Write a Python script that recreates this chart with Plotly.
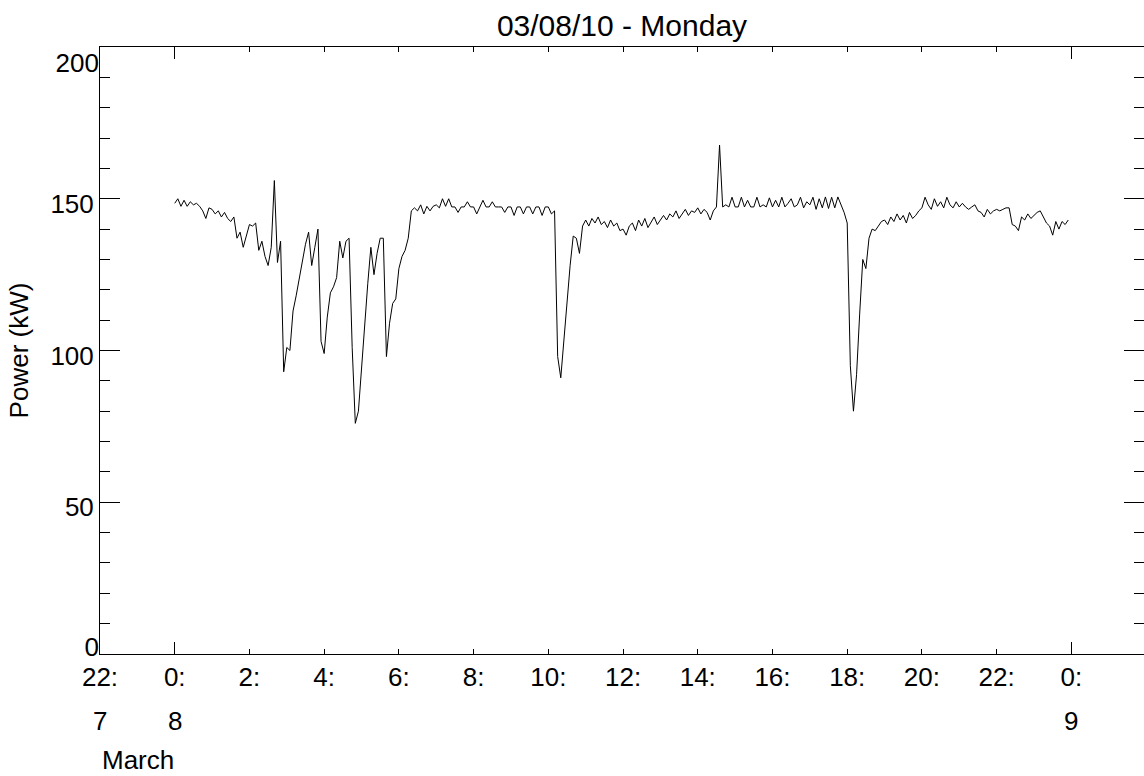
import pandas as pd
import plotly.graph_objects as go

# ---- data (5-minute readings, 2010-03-08) ----
start_time = "2010-03-08 00:00"
power_kw = [
    148.5, 150.0, 147.5, 149.5, 147.5, 149.0, 148.0, 148.5, 147.5, 146.0, 143.5, 147.0,   # 0h
    146.5, 145.0, 146.0, 144.0, 145.5, 143.5, 142.5, 144.0, 137.0, 139.0, 134.0, 137.5,   # 1h
    141.5, 141.0, 142.0, 133.0, 136.0, 131.0, 128.0, 134.0, 156.0, 129.0, 136.0, 93.0,    # 2h
    101.0, 100.0, 113.0, 118.0, 124.0, 130.0, 135.0, 139.0, 128.0, 134.0, 140.0, 103.0,   # 3h
    99.0, 111.0, 119.0, 121.0, 124.0, 136.0, 130.5, 136.0, 137.0, 101.0, 76.0, 80.0,      # 4h
    95.0, 110.0, 122.0, 134.0, 125.0, 132.0, 137.0, 137.0, 98.0, 109.0, 115.5, 117.0,     # 5h
    127.0, 131.0, 133.0, 137.0, 146.0, 147.0, 146.0, 148.0, 145.0, 147.5, 146.0, 147.5,   # 6h
    148.0, 147.0, 150.0, 147.5, 150.0, 147.3, 147.3, 145.5, 147.3, 147.3, 149.0, 147.3,   # 7h
    147.3, 145.0, 147.3, 149.5, 147.3, 147.3, 149.0, 147.3, 147.3, 147.3, 145.5, 147.3,   # 8h
    147.3, 144.5, 147.3, 147.3, 145.0, 147.3, 147.3, 145.0, 147.3, 147.3, 144.5, 147.3,   # 9h
    147.3, 145.0, 146.0, 98.0, 91.0, 104.0, 117.0, 128.0, 137.7, 137.0, 132.0, 141.0,     # 10h
    143.0, 141.0, 143.5, 142.0, 144.0, 141.5, 142.5, 140.5, 143.0, 141.0, 142.0, 139.5,   # 11h
    140.0, 138.0, 141.0, 142.0, 139.5, 143.0, 141.0, 143.5, 140.5, 142.5, 144.0, 141.5,   # 12h
    143.0, 144.5, 143.0, 145.0, 144.0, 146.0, 143.5, 145.0, 146.5, 144.5, 146.0, 145.5,   # 13h
    147.0, 145.0, 146.5, 145.5, 143.0, 146.0, 147.3, 167.7, 147.3, 148.0, 147.3, 150.5,   # 14h
    147.3, 147.3, 150.5, 147.3, 149.5, 147.3, 147.3, 150.5, 147.3, 148.0, 147.3, 150.3,   # 15h
    147.3, 149.5, 147.3, 150.5, 147.3, 148.5, 150.0, 147.3, 148.0, 150.5, 147.0, 149.0,   # 16h
    148.0, 150.5, 146.5, 150.0, 147.0, 150.6, 146.8, 150.5, 147.0, 150.6, 148.0, 145.5,   # 17h
    142.0, 95.0, 80.0, 92.0, 112.0, 130.0, 127.0, 137.0, 140.0, 139.5, 141.0, 142.5,      # 18h
    143.0, 141.5, 144.0, 142.5, 145.0, 143.0, 144.5, 142.0, 145.5, 143.5, 144.5, 146.0,   # 19h
    147.0, 150.5, 148.0, 146.5, 150.0, 147.5, 149.0, 147.0, 150.5, 148.0, 147.0, 149.0,   # 20h
    147.3, 148.5, 147.3, 146.5, 147.3, 148.0, 146.0, 145.5, 144.0, 146.5, 145.0, 146.0,   # 21h
    146.5, 146.0, 146.5, 147.0, 147.0, 141.5, 141.0, 139.5, 144.0, 143.0, 145.0, 143.5,   # 22h
    144.5, 145.5, 146.0, 144.0, 142.0, 141.0, 138.0, 142.5, 140.0, 142.5, 141.5, 143.0,   # 23h
]
times = pd.date_range(start_time, periods=len(power_kw), freq="5min")

# ---- axis labelling ----
hour_tick_vals = ["2010-03-07 22:00", "2010-03-08 00:00", "2010-03-08 02:00", "2010-03-08 04:00",
                  "2010-03-08 06:00", "2010-03-08 08:00", "2010-03-08 10:00", "2010-03-08 12:00",
                  "2010-03-08 14:00", "2010-03-08 16:00", "2010-03-08 18:00", "2010-03-08 20:00",
                  "2010-03-08 22:00", "2010-03-09 00:00"]
hour_tick_text = ["22:", "0:", "2:", "4:", "6:", "8:", "10:", "12:", "14:", "16:", "18:", "20:", "22:", "0:"]
midnight_vals = ["2010-03-08 00:00", "2010-03-09 00:00"]
day_tick_vals = ["2010-03-07 22:00", "2010-03-08 00:00", "2010-03-09 00:00"]
day_tick_text = ["7", "8", "9"]
month_label = "March"
y_tick_vals = [0, 50, 100, 150, 200]
y_inner_text = ["", "50", "100", "150", ""]
x_range = ["2010-03-07 22:00", "2010-03-09 01:56:38"]
y_range = [0, 200]

FONT = "Liberation Sans, Arial, Helvetica, sans-serif"

fig = go.Figure()
fig.add_trace(go.Scatter(x=times, y=power_kw, mode="lines",
                         line=dict(color="black", width=1), showlegend=False))
# empty helper traces so the overlay axes (extra ticks / end labels) get drawn
for xa, ya in (("x2", "y"), ("x", "y2"), ("x", "y3")):
    fig.add_trace(go.Scatter(x=[], y=[], xaxis=xa, yaxis=ya, mode="lines",
                             showlegend=False, hoverinfo="skip"))

annotations = []
for v, t in zip(day_tick_vals, day_tick_text):
    annotations.append(dict(x=v, y=-0.1104, xref="x", yref="paper", text=t,
                            showarrow=False, xanchor="center", yanchor="middle",
                            font=dict(family=FONT, size=26, color="black")))
annotations.append(dict(x=day_tick_vals[0], y=-0.1746, xref="x", yref="paper", text=month_label,
                        showarrow=False, xanchor="left", yanchor="middle",
                        font=dict(family=FONT, size=26, color="black")))

label_axis = dict(range=y_range, overlaying="y", anchor="x", side="left", tickmode="array",
                  ticks="", showline=False, showgrid=False, zeroline=False,
                  tickfont=dict(size=26, family=FONT, color="black"))

fig.update_layout(
    width=1144, height=776,
    margin=dict(l=100, r=0, t=47, b=122),
    paper_bgcolor="white", plot_bgcolor="white",
    font=dict(family=FONT, size=26, color="black"),
    title=dict(text="03/08/10 - Monday", x=0.5, xref="paper", xanchor="center",
               y=1 - 25 / 776, yref="container", yanchor="middle",
               font=dict(family=FONT, size=30, color="black")),
    xaxis=dict(type="date", range=x_range, tickmode="array", tickvals=hour_tick_vals,
               ticktext=hour_tick_text, ticks="inside", ticklen=5, tickcolor="black",
               showline=True, linecolor="black", linewidth=1, mirror="ticks",
               showgrid=False, zeroline=False, tickfont=dict(size=26, family=FONT)),
    xaxis2=dict(type="date", range=x_range, overlaying="x", anchor="y", side="bottom",
                tickmode="array", tickvals=midnight_vals, ticks="inside", ticklen=12,
                tickcolor="black", showline=False, mirror="ticks", showticklabels=False,
                showgrid=False, zeroline=False),
    yaxis=dict(range=y_range, tickmode="array", tickvals=y_tick_vals, ticktext=y_inner_text,
               ticks="inside", ticklen=20, ticklabelshift=5,
               tickcolor="black", showline=True, linecolor="black", linewidth=1, mirror="ticks",
               showgrid=False, zeroline=False, tickfont=dict(size=26, family=FONT),
               minor=dict(tickmode="linear", tick0=0, dtick=10, ticks="inside", ticklen=10,
                          tickcolor="black", showgrid=False),
               title=dict(text="Power (kW)", font=dict(size=26, family=FONT), standoff=14)),
    yaxis2=dict(label_axis, tickvals=[y_tick_vals[0]], ticktext=[str(y_tick_vals[0])],
                ticklabelshift=-7),
    yaxis3=dict(label_axis, tickvals=[y_tick_vals[-1]], ticktext=[str(y_tick_vals[-1])],
                ticklabelshift=16),
    annotations=annotations,
)

fig.write_html("out.html")
